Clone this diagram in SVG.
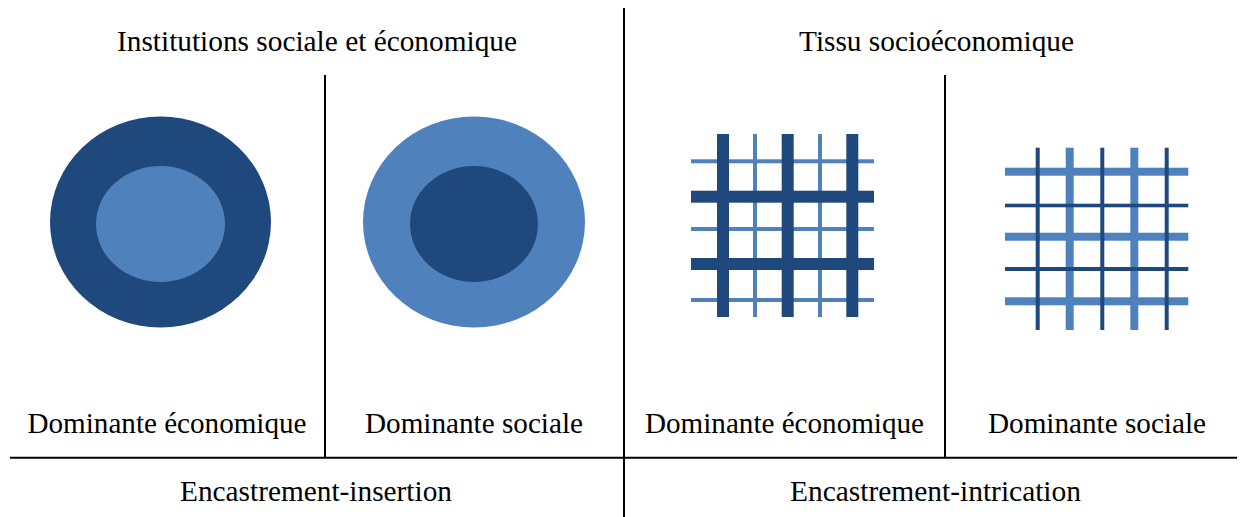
<svg xmlns="http://www.w3.org/2000/svg" width="1247" height="517" viewBox="0 0 1247 517">
<style>
text{font-family:"Liberation Serif","Times New Roman",serif;font-size:29.5px;fill:#000;text-anchor:middle}
.rule{stroke:#000;stroke-width:2;fill:none}
.dk{fill:#1F497D}
.lt{fill:#4F81BD}
</style>
<rect width="1247" height="517" fill="#fff"/>
<g id="connectors">
<line class="rule" x1="624" y1="8" x2="624" y2="517"/>
<line class="rule" x1="10" y1="457.7" x2="1237" y2="457.7"/>
<line class="rule" x1="325" y1="75" x2="325" y2="458"/>
<line class="rule" x1="945" y1="75" x2="945" y2="458"/>
</g>
<g id="title-left"><text x="317" y="51" textLength="400" lengthAdjust="spacingAndGlyphs">Institutions sociale et économique</text></g>
<g id="title-right"><text x="936.5" y="51" textLength="275" lengthAdjust="spacingAndGlyphs">Tissu socioéconomique</text></g>
<g id="circle-eco">
<ellipse class="dk" cx="160.5" cy="222" rx="110.5" ry="105.5"/>
<ellipse class="lt" cx="160.5" cy="224" rx="64.5" ry="58"/>
<text x="167" y="432.7" textLength="279" lengthAdjust="spacingAndGlyphs">Dominante économique</text>
</g>
<g id="circle-soc">
<ellipse class="lt" cx="474" cy="222" rx="111" ry="105.5"/>
<ellipse class="dk" cx="474" cy="224" rx="64" ry="58"/>
<text x="474" y="432.7" textLength="218" lengthAdjust="spacingAndGlyphs">Dominante sociale</text>
</g>
<g id="grid-eco">
<rect class="lt" x="691" y="159.3" width="183" height="4"/>
<rect class="lt" x="691" y="227" width="183" height="4"/>
<rect class="lt" x="691" y="298" width="183" height="4"/>
<rect class="lt" x="753" y="134" width="4" height="183"/>
<rect class="lt" x="818" y="134" width="4" height="183"/>
<rect class="dk" x="691" y="190.7" width="183" height="12"/>
<rect class="dk" x="691" y="258" width="183" height="12"/>
<rect class="dk" x="717" y="134" width="12" height="183"/>
<rect class="dk" x="781.7" y="134" width="12" height="183"/>
<rect class="dk" x="846.3" y="134" width="12" height="183"/>
<text x="784.5" y="432.7" textLength="279" lengthAdjust="spacingAndGlyphs">Dominante économique</text>
</g>
<g id="grid-soc">
<rect class="lt" x="1005" y="167.7" width="183.3" height="8"/>
<rect class="lt" x="1005" y="232.7" width="183.3" height="8"/>
<rect class="lt" x="1005" y="297.3" width="183.3" height="8"/>
<rect class="lt" x="1065.7" y="147.7" width="8" height="182.3"/>
<rect class="lt" x="1130.3" y="147.7" width="8" height="182.3"/>
<rect class="dk" x="1005" y="203.7" width="183.3" height="3.6"/>
<rect class="dk" x="1005" y="267" width="183.3" height="4"/>
<rect class="dk" x="1035.7" y="147.7" width="4" height="182.3"/>
<rect class="dk" x="1100.3" y="147.7" width="4" height="182.3"/>
<rect class="dk" x="1164.7" y="147.7" width="4" height="182.3"/>
<text x="1097" y="432.7" textLength="218" lengthAdjust="spacingAndGlyphs">Dominante sociale</text>
</g>
<g id="footer-left"><text x="316" y="500.7" textLength="272" lengthAdjust="spacingAndGlyphs">Encastrement-insertion</text></g>
<g id="footer-right"><text x="935.5" y="500.7" textLength="291" lengthAdjust="spacingAndGlyphs">Encastrement-intrication</text></g>
</svg>
